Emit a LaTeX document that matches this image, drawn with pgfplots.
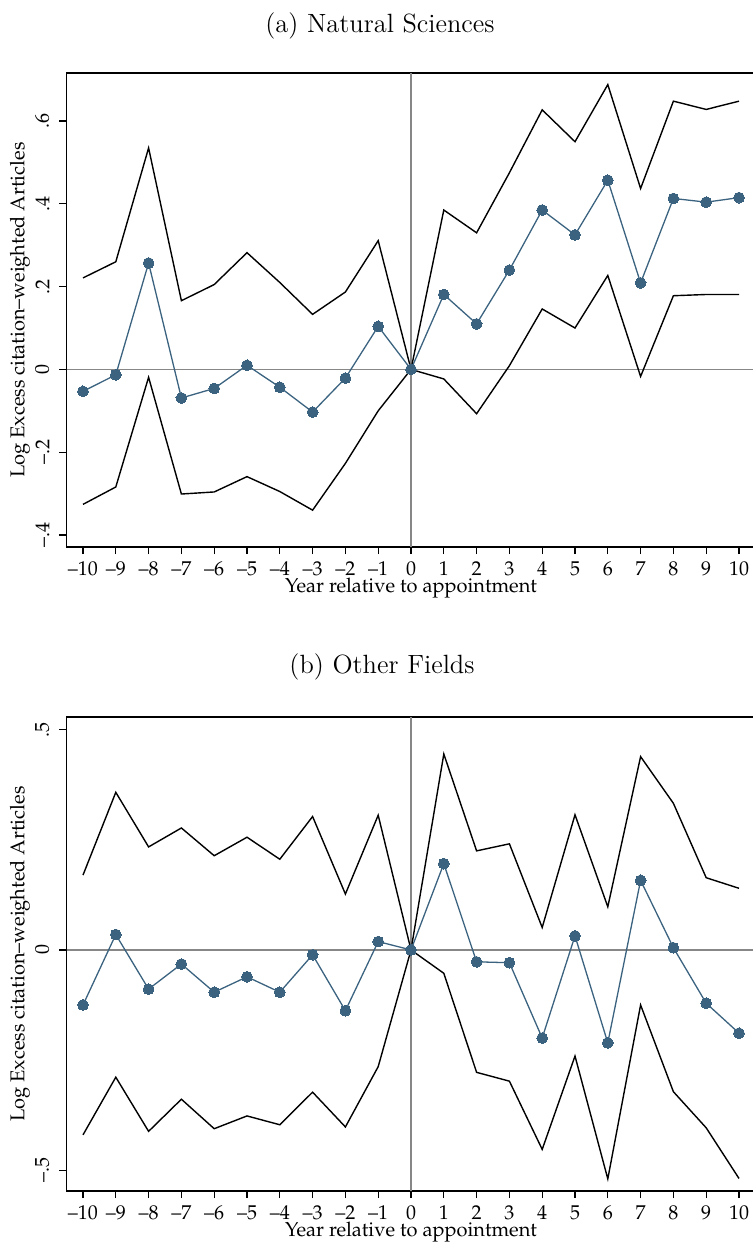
\documentclass[border=0pt]{standalone}
\usepackage[T1,TU]{fontenc}
\usepackage{pgfplots}
\pgfplotsset{compat=1.18}

% Palatino for axis text, Latin Modern for panel titles
\newcommand{\pal}{\fontencoding{T1}\fontfamily{ppl}\fontsize{10}{12}\selectfont}
\newcommand{\ttl}{\fontsize{13.2}{15}\selectfont}

\definecolor{estblue}{RGB}{59,99,128}
\definecolor{refgray}{RGB}{135,135,135}

\pgfplotstableread{
yr    est     lo      hi
-10  -0.053  -0.326  0.221
-9   -0.013  -0.284  0.260
-8    0.257  -0.019  0.535
-7   -0.069  -0.301  0.166
-6   -0.046  -0.296  0.205
-5    0.010  -0.259  0.282
-4   -0.043  -0.295  0.210
-3   -0.103  -0.340  0.133
-2   -0.021  -0.227  0.187
-1    0.104  -0.100  0.311
0     0       0      0
1     0.181  -0.023  0.385
2     0.110  -0.107  0.330
3     0.240   0.009  0.475
4     0.385   0.146  0.627
5     0.325   0.100  0.550
6     0.457   0.227  0.688
7     0.209  -0.017  0.437
8     0.413   0.178  0.648
9     0.404   0.181  0.628
10    0.415   0.181  0.648
}\natsci

\pgfplotstableread{
yr    est     lo      hi
-10  -0.125  -0.420  0.170
-9    0.035  -0.289  0.358
-8   -0.089  -0.412  0.234
-7   -0.032  -0.339  0.277
-6   -0.096  -0.406  0.214
-5   -0.061  -0.377  0.256
-4   -0.096  -0.397  0.206
-3   -0.011  -0.323  0.303
-2   -0.138  -0.402  0.127
-1    0.019  -0.265  0.306
0     0       0      0
1     0.196  -0.053  0.445
2    -0.027  -0.278  0.225
3    -0.029  -0.298  0.241
4    -0.200  -0.453  0.051
5     0.032  -0.241  0.307
6    -0.211  -0.520  0.098
7     0.158  -0.125  0.439
8     0.005  -0.322  0.333
9    -0.121  -0.404  0.164
10   -0.189  -0.519  0.140
}\otherf

\pgfplotsset{
  panel/.style={
    scale only axis,
    width=346.04pt, height=237pt,
    xmin=-10.5, xmax=10.6,
    axis line style={black, line width=0.6pt},
    tick align=outside,
    xtick pos=left, ytick pos=left,
    major tick length=3.6pt,
    tick style={black, line width=0.6pt},
    xtick={-10,...,10},
    xticklabels={--10,--9,--8,--7,--6,--5,--4,--3,--2,--1,0,1,2,3,4,5,6,7,8,9,10},
    xticklabel style={font=\pal},
    yticklabel style={font=\pal, rotate=90, anchor=south, yshift=1.5pt},
    xlabel={Year relative to appointment},
    ylabel={Log Excess citation--weighted Articles},
    label style={font=\pal},
    xlabel style={at={(rel axis cs:0.4976,0)}, anchor=center, yshift=-20.5pt},
    ylabel style={at={(rel axis cs:0,0.5)}, anchor=center, yshift=23.3pt},
    extra x ticks={0}, extra y ticks={0},
    extra x tick labels={}, extra y tick labels={},
    extra tick style={grid=major, major tick length=0pt},
    major grid style={refgray, line width=0.6pt},
  },
  ci/.style={black, line width=0.7pt, no marks},
  pt/.style={estblue, line width=0.65pt, mark=*, mark size=2.7pt,
    mark options={fill=estblue, draw=estblue, line width=0pt}},
}

\begin{document}
\begin{tikzpicture}
\useasboundingbox (0,0) rectangle (376.5pt,-621.5pt);

\node[font=\ttl] at (190pt,-13pt) {(a) Natural Sciences};
\begin{axis}[panel, at={(33.3pt,-273.5pt)}, anchor=south west,
  ymin=-0.429, ymax=0.716,
  ytick={-0.4,-0.2,0,0.2,0.4,0.6},
  yticklabels={--.4,--.2,0,.2,.4,.6}]
  \addplot[ci] table[x=yr, y=hi] {\natsci};
  \addplot[ci] table[x=yr, y=lo] {\natsci};
  \addplot[pt] table[x=yr, y=est] {\natsci};
\end{axis}

\node[font=\ttl] at (191pt,-333.5pt) {(b) Other Fields};
\begin{axis}[panel, at={(33.3pt,-595.5pt)}, anchor=south west,
  ymin=-0.5475, ymax=0.529,
  ytick={-0.5,0,0.5},
  yticklabels={--.5,0,.5}]
  \addplot[ci] table[x=yr, y=hi] {\otherf};
  \addplot[ci] table[x=yr, y=lo] {\otherf};
  \addplot[pt] table[x=yr, y=est] {\otherf};
\end{axis}
\end{tikzpicture}
\end{document}
